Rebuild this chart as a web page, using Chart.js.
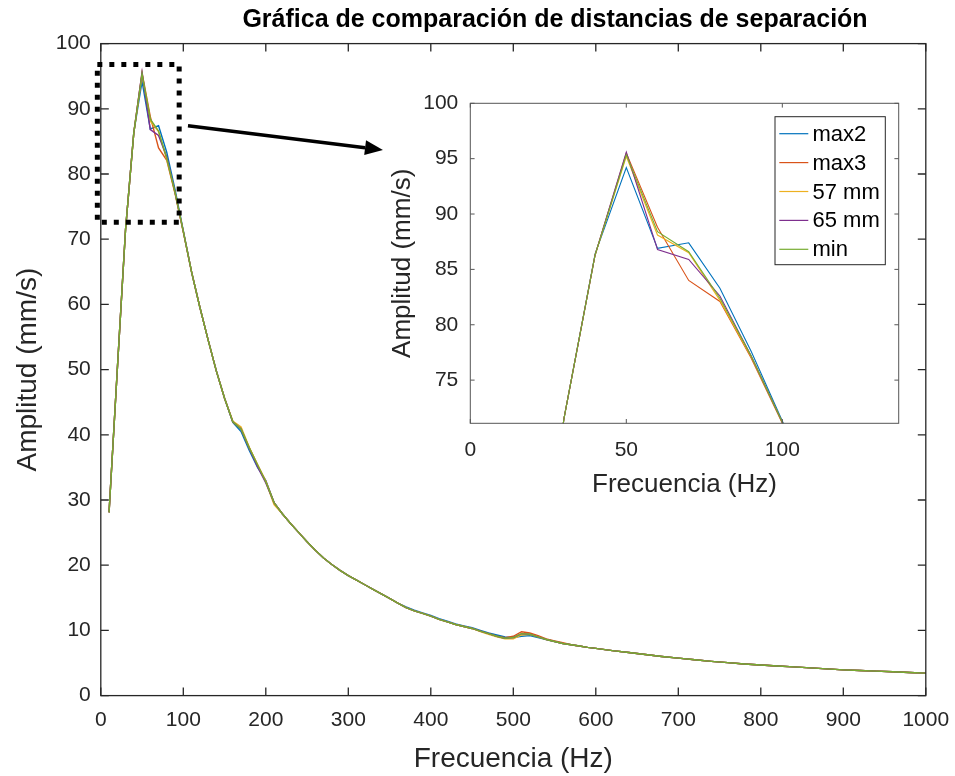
<!DOCTYPE html>
<html><head><meta charset="utf-8">
<script src="https://cdn.jsdelivr.net/npm/chart.js@4/dist/chart.umd.min.js"></script>
<style>
html,body{margin:0;padding:0;background:#fff;}
#wrap{position:relative;width:955px;height:776px;}
#main{position:absolute;left:0;top:0;}
#inset{position:absolute;left:380px;top:90px;}
</style></head><body>
<div id="wrap"><canvas id="main" width="955" height="776"></canvas><canvas id="inset" width="530" height="415"></canvas></div>
<script>
// ---------- data ----------
const freq = [10,20,30,40,50,60,70,80,90,100,110,120,130,140,150,160,170,180,190,200,
 210,220,230,240,250,260,270,280,290,300,310,320,330,340,350,360,370,380,390,400,
 410,420,430,440,450,460,470,480,490,500,510,520,530,540,550,560,570,580,590,600,
 620,640,660,680,700,720,740,760,780,800,820,840,860,880,900,920,940,960,980,1000];

const max2 = [28.1,50.0,71.5,86.4,94.2,86.9,87.4,83.3,77.6,71.3, 65.0,59.6,54.6,49.8,45.6,41.9,40.5,37.6,35.0,33.0,
 29.6,27.9,26.4,25.0,23.6,22.3,21.1,20.1,19.2,18.4, 17.7,17.0,16.3,15.6,14.9,14.2,13.6,13.1,12.7,12.3,
 11.8,11.4,11.0,10.7,10.4,10.0,9.6,9.3,9.0,8.9, 9.1,9.2,8.9,8.6,8.3,8.0,7.8,7.6,7.4,7.25,
 6.9,6.6,6.3,6.0,5.75,5.5,5.25,5.05,4.85,4.7, 4.55,4.4,4.25,4.1,3.95,3.85,3.75,3.65,3.55,3.45];
const max3 = [28.1,50.0,71.5,86.3,95.5,88.8,84.0,82.1,77.0,71.1, 65.0,59.6,54.6,49.8,45.6,42.0,40.9,38.0,35.4,32.9,
 29.6,27.9,26.4,25.0,23.6,22.3,21.1,20.1,19.2,18.4, 17.7,17.0,16.3,15.6,14.9,14.2,13.5,13.0,12.6,12.2,
 11.7,11.3,10.9,10.6,10.3,9.9,9.5,9.1,8.9,9.1, 9.8,9.6,9.2,8.7,8.4,8.1,7.8,7.6,7.4,7.25,
 6.9,6.6,6.3,6.0,5.75,5.5,5.25,5.05,4.85,4.7, 4.55,4.4,4.25,4.1,3.95,3.85,3.75,3.65,3.55,3.45];
const mm57 = [28.1,50.0,71.5,86.3,95.2,88.1,86.5,82.2,77.1,71.2, 65.0,59.6,54.6,49.8,45.6,42.1,41.2,38.1,35.4,32.8,
 29.3,27.9,26.4,25.0,23.6,22.3,21.1,20.1,19.2,18.4, 17.7,17.0,16.3,15.6,14.9,14.2,13.5,13.0,12.6,12.2,
 11.7,11.3,10.9,10.6,10.3,9.8,9.4,9.0,8.7,8.7, 9.3,9.4,9.0,8.6,8.3,8.0,7.8,7.6,7.4,7.25,
 6.9,6.6,6.3,6.0,5.75,5.5,5.25,5.05,4.85,4.7, 4.55,4.4,4.25,4.1,3.95,3.85,3.75,3.65,3.55,3.45];
const mm65 = [28.1,50.0,71.5,86.3,95.6,86.8,85.9,82.6,77.2,71.2, 65.0,59.6,54.6,49.8,45.6,42.0,40.9,37.9,35.1,32.6,
 29.6,27.9,26.4,25.0,23.6,22.3,21.1,20.1,19.2,18.4, 17.7,17.0,16.3,15.6,14.9,14.2,13.5,13.0,12.6,12.2,
 11.7,11.3,10.9,10.6,10.3,9.9,9.5,9.1,8.8,8.9, 9.5,9.4,9.0,8.6,8.3,8.0,7.8,7.6,7.4,7.25,
 6.9,6.6,6.3,6.0,5.75,5.5,5.25,5.05,4.85,4.7, 4.55,4.4,4.25,4.1,3.95,3.85,3.75,3.65,3.55,3.45];
const minS = [28.1,50.0,71.5,86.3,95.35,88.4,86.6,82.4,77.2,71.2, 65.0,59.6,54.6,49.8,45.6,42.0,40.9,38.0,35.4,32.8,
 29.6,27.9,26.4,25.0,23.6,22.3,21.1,20.1,19.2,18.4, 17.7,17.0,16.3,15.6,14.9,14.2,13.5,13.0,12.6,12.2,
 11.7,11.3,10.9,10.6,10.3,9.9,9.5,9.1,8.8,8.9, 9.5,9.4,9.0,8.6,8.3,8.0,7.8,7.6,7.4,7.25,
 6.9,6.6,6.3,6.0,5.75,5.5,5.25,5.05,4.85,4.7, 4.55,4.4,4.25,4.1,3.95,3.85,3.75,3.65,3.55,3.45];

const seriesNames = ['max2','max3','57 mm','65 mm','min'];
const seriesValues = [max2, max3, mm57, mm65, minS];

const mainXTicks = [0,100,200,300,400,500,600,700,800,900,1000];
const mainYTicks = [0,10,20,30,40,50,60,70,80,90,100];
const insetXTicks = [0,50,100];
const insetYTicks = [75,80,85,90,95,100];

const titleText = 'Gráfica de comparación de distancias de separación';
const xTitle = 'Frecuencia (Hz)';
const yTitle = 'Amplitud (mm/s)';

// annotation placement (data coordinates of main axes)
const zoomBoxX = [-4.2, 95];
const zoomBoxY = [72.6, 96.8];
const arrowFrom = [105.7, 87.4];
const arrowTo = [342, 83.7];

// ---------- style ----------
const colors = ['#0072BD','#D95319','#EDB120','#7E2F8E','#77AC30'];
const FONT = "'Liberation Sans', Arial, Helvetica, sans-serif";
const INK = '#262626';

function mkDatasets(width){
  return seriesNames.map((n,i)=>({
    label:n,
    data: freq.map((f,j)=>({x:f,y:seriesValues[i][j]})),
    borderColor: colors[i], backgroundColor: colors[i],
    borderWidth: width, pointRadius:0, tension:0, fill:false,
    order: seriesNames.length - i
  }));
}

function boxTicks(id, tickLen, lw, color){
  return {id, afterDraw(chart){
    const {ctx, chartArea:a, scales:{x,y}} = chart;
    ctx.save();
    ctx.strokeStyle=color; ctx.lineWidth=lw;
    ctx.beginPath();
    x.ticks.forEach(t=>{const p=x.getPixelForValue(t.value);
      ctx.moveTo(p,a.bottom); ctx.lineTo(p,a.bottom-tickLen);
      ctx.moveTo(p,a.top); ctx.lineTo(p,a.top+tickLen);});
    y.ticks.forEach(t=>{const p=y.getPixelForValue(t.value);
      ctx.moveTo(a.left,p); ctx.lineTo(a.left+tickLen,p);
      ctx.moveTo(a.right,p); ctx.lineTo(a.right-tickLen,p);});
    ctx.stroke();
    ctx.strokeRect(a.left,a.top,a.right-a.left,a.bottom-a.top);
    ctx.restore();
  }};
}

const mainDeco = {id:'mainDeco', afterDraw(chart){
  const {ctx, scales:{x,y}} = chart;
  ctx.save();
  // title
  ctx.fillStyle='#000';
  ctx.font = "bold 25px " + FONT;
  ctx.textAlign='center'; ctx.textBaseline='middle';
  ctx.fillText(titleText, 555, 20);
  // dotted zoom box
  const l=x.getPixelForValue(zoomBoxX[0]), r=x.getPixelForValue(zoomBoxX[1]);
  const t=y.getPixelForValue(zoomBoxY[1]), b=y.getPixelForValue(zoomBoxY[0]);
  ctx.strokeStyle='#000'; ctx.lineWidth=5; ctx.setLineDash([5,7]); ctx.lineCap='butt';
  ctx.strokeRect(l,t,r-l,b-t);
  ctx.setLineDash([]);
  // arrow
  const x1=x.getPixelForValue(arrowFrom[0]), y1=y.getPixelForValue(arrowFrom[1]);
  const x2=x.getPixelForValue(arrowTo[0]), y2=y.getPixelForValue(arrowTo[1]);
  const ang=Math.atan2(y2-y1,x2-x1), hl=18, hw=7.5;
  const bxp=x2-hl*Math.cos(ang), byp=y2-hl*Math.sin(ang);
  ctx.lineWidth=3.5;
  ctx.beginPath(); ctx.moveTo(x1,y1); ctx.lineTo(bxp,byp); ctx.stroke();
  ctx.fillStyle='#000';
  ctx.beginPath(); ctx.moveTo(x2,y2);
  ctx.lineTo(bxp - hw*Math.sin(ang), byp + hw*Math.cos(ang));
  ctx.lineTo(bxp + hw*Math.sin(ang), byp - hw*Math.cos(ang));
  ctx.closePath(); ctx.fill();
  ctx.restore();
}};

function axisOpts(min,max,tickArr,size,fitKey,fitVal,tickPad,titleSize,titlePad){
  return {
    type:'linear', min, max,
    afterBuildTicks: s=>{ s.ticks = tickArr.map(v=>({value:v})); },
    afterFit: s=>{ s[fitKey] = fitVal; s.paddingLeft=0; s.paddingRight=0; s.paddingTop=0; s.paddingBottom=0; },
    grid:{display:false, drawTicks:false},
    border:{display:false},
    ticks:{color:INK, font:{family:FONT,size}, padding:tickPad, maxRotation:0, autoSkip:false,
           callback: v => String(v)},
    title:{display:true, color:INK, font:{family:FONT,size:titleSize}, padding:titlePad}
  };
}

// ---------- main chart ----------
const mx = axisOpts(0,1000,mainXTicks,21,'height',80.4,12,28,{top:0,bottom:0});
mx.title.text = xTitle;
const my = axisOpts(0,100,mainYTicks,21,'width',100.8,10,28,{top:11.2,bottom:0});
my.title.text = yTitle;

new Chart(document.getElementById('main'), {
  type:'line',
  data:{datasets: mkDatasets(1.4)},
  options:{
    responsive:false, animation:false, devicePixelRatio:1,
    layout:{padding:{top:43.6,right:29.2,left:0,bottom:0}},
    plugins:{legend:{display:false}, tooltip:{enabled:false}, title:{display:false}},
    scales:{x:mx, y:my}
  },
  plugins:[boxTicks('mainBox',8,1.3,INK), mainDeco]
});

// ---------- inset chart ----------
const insetBg = {id:'insetBg', beforeDraw(chart){
  const {ctx, chartArea:a} = chart;
  ctx.save(); ctx.fillStyle='#fff'; ctx.fillRect(a.left,a.top,a.right-a.left,a.bottom-a.top); ctx.restore();
}};
const insetLegend = {id:'insetLegend', afterDraw(chart){
  const {ctx, chartArea:a} = chart;
  const w=110.3, h=148, bx=a.right-13.4-w, by=a.top+13.4;
  ctx.save();
  ctx.fillStyle='#fff'; ctx.fillRect(bx,by,w,h);
  ctx.strokeStyle=INK; ctx.lineWidth=1; ctx.strokeRect(bx,by,w,h);
  ctx.font = "22px " + FONT; ctx.textAlign='left'; ctx.textBaseline='middle';
  chart.data.datasets.forEach((ds,i)=>{
    const yy = by + 17 + i*28.9;
    ctx.strokeStyle=ds.borderColor; ctx.lineWidth=1.2;
    ctx.beginPath(); ctx.moveTo(bx+4.3,yy); ctx.lineTo(bx+33.3,yy); ctx.stroke();
    ctx.fillStyle='#000'; ctx.fillText(ds.label, bx+37.5, yy+1);
  });
  ctx.restore();
}};

const ix = axisOpts(0,137.3,insetXTicks,21,'height',81.7,14,26,{top:0,bottom:4.4});
ix.title.text = xTitle;
const iy = axisOpts(71.1,100,insetYTicks,21,'width',90.3,12,26,{top:7.4,bottom:0});
iy.title.text = yTitle;

new Chart(document.getElementById('inset'), {
  type:'line',
  data:{datasets: mkDatasets(1.1)},
  options:{
    responsive:false, animation:false, devicePixelRatio:1,
    layout:{padding:{top:13.3,right:11.3,left:0,bottom:0}},
    plugins:{legend:{display:false}, tooltip:{enabled:false}, title:{display:false}},
    scales:{x:ix, y:iy}
  },
  plugins:[insetBg, boxTicks('insetBox',4.3,1,'#555'), insetLegend]
});
</script>
</body></html>
